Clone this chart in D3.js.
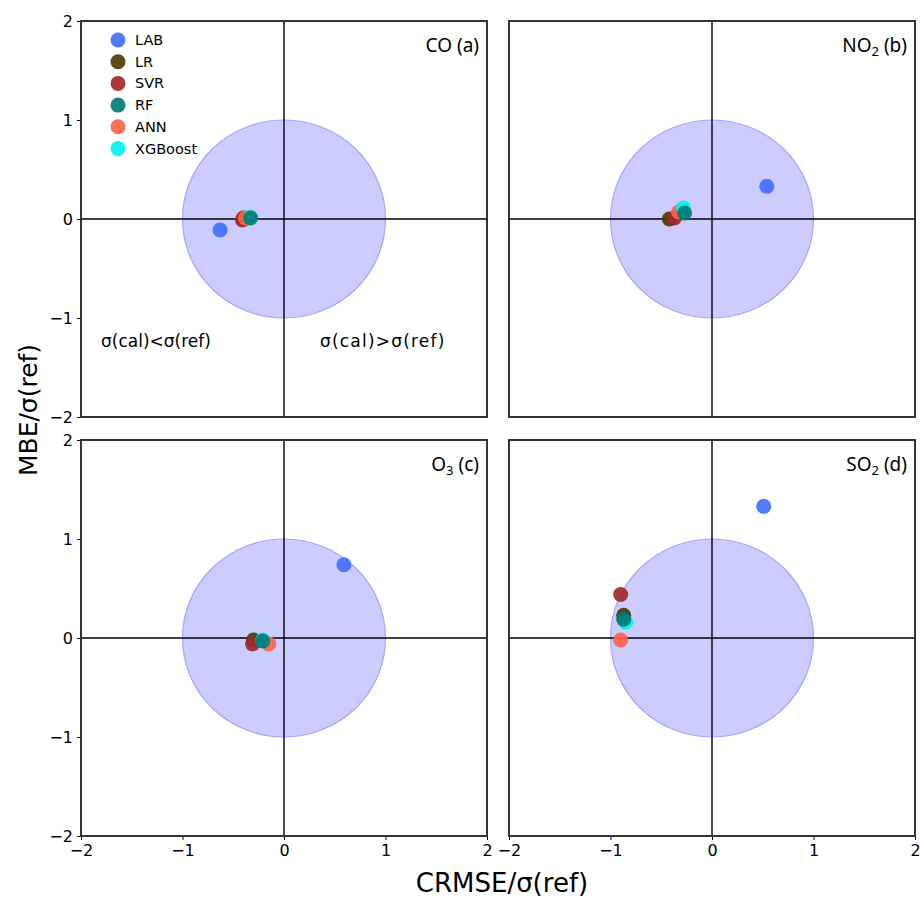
<!DOCTYPE html>
<html lang="en">
<head>
  <meta charset="UTF-8">
  <title>MBE vs CRMSE target diagrams</title>
  <script src="https://d3js.org/d3.v7.min.js"></script>
  <style>
    body { margin: 0; background: #fff; font-family: "DejaVu Sans", sans-serif; }
    .tick text { font-family: "DejaVu Sans", sans-serif; font-size: 16px; fill: #000; }
  </style>
</head>
<body>
  <div id="viz"></div>
  <script>
    // Models, in legend order
    const models = ['LAB', 'LR', 'SVR', 'RF', 'ANN', 'XGBoost'];
    const colors = ['#4370fb', '#4d3b00', '#a3272b', '#007b75', '#ff6347', '#00f2f0'];
    // draw order (RF sits on top of the others)
    const drawOrder = ['LAB', 'LR', 'SVR', 'ANN', 'XGBoost', 'RF'];

    // Panels: name, subscript, tag
    const panels = [
      {name: 'CO', sub: '', tag: '(a)'},
      {name: 'NO', sub: '2', tag: '(b)'},
      {name: 'O', sub: '3', tag: '(c)'},
      {name: 'SO', sub: '2', tag: '(d)'}
    ];

    // CRMSE/σ(ref) per panel, model order as in `models`
    const crmse = [
      [-0.63, -0.40, -0.41, -0.33, -0.38, -0.33],
      [ 0.54, -0.42, -0.37, -0.27, -0.33, -0.28],
      [ 0.59, -0.30, -0.31, -0.21, -0.15, -0.21],
      [ 0.51, -0.87, -0.90, -0.87, -0.90, -0.85]
    ];
    // MBE/σ(ref)
    const mbe = [
      [-0.11,  0.01, -0.01,  0.01,  0.01,  0.02],
      [ 0.33,  0.00,  0.01,  0.06,  0.07,  0.11],
      [ 0.74, -0.02, -0.06, -0.03, -0.06, -0.02],
      [ 1.33,  0.23,  0.44,  0.19, -0.02,  0.16]
    ];

    const ticks = [-2, -1, 0, 1, 2];

    const W = 920, H = 902;
    const cols = [81, 509], rows = [21, 440], pw = 406, ph = 396;

    const svg = d3.select('#viz').append('svg')
      .attr('width', W).attr('height', H);

    const x = d3.scaleLinear().domain([-2, 2]).range([0, pw]);
    const y = d3.scaleLinear().domain([-2, 2]).range([ph, 0]);
    const color = d3.scaleOrdinal().domain(models).range(colors);

    panels.forEach((p, i) => {
      const c = i % 2, r = Math.floor(i / 2);
      const g = svg.append('g')
        .attr('transform', `translate(${cols[c]},${rows[r]})`);

      // unit circle
      g.append('ellipse')
        .attr('cx', x(0)).attr('cy', y(0))
        .attr('rx', x(1) - x(0)).attr('ry', y(0) - y(1))
        .attr('fill', 'rgb(204,204,255)')
        .attr('stroke', 'rgb(165,165,250)').attr('stroke-width', 1.2);

      // zero lines
      g.append('line').attr('x1', x(0)).attr('x2', x(0)).attr('y1', 0).attr('y2', ph)
        .attr('stroke', '#000').attr('stroke-width', 1.4);
      g.append('line').attr('x1', 0).attr('x2', pw).attr('y1', y(0)).attr('y2', y(0))
        .attr('stroke', '#000').attr('stroke-width', 1.4);

      // points
      const pts = drawOrder.map(m => {
        const k = models.indexOf(m);
        return {m, cx: crmse[i][k], my: mbe[i][k]};
      });
      g.selectAll('circle.pt').data(pts).enter().append('circle')
        .attr('class', 'pt')
        .attr('cx', d => x(d.cx)).attr('cy', d => y(d.my))
        .attr('r', 7.5)
        .attr('fill', d => color(d.m))
        .attr('fill-opacity', 0.92);

      // axes
      if (c === 0) {
        g.append('g').call(d3.axisLeft(y).tickValues(ticks).tickSize(4).tickPadding(4)
          .tickFormat(d => d < 0 ? '\u2212' + Math.abs(d) : d))
          .call(a => a.select('.domain').remove());
      }
      if (r === 1) {
        g.append('g').attr('transform', `translate(0,${ph})`)
          .call(d3.axisBottom(x).tickValues(ticks).tickSize(4).tickPadding(5)
            .tickFormat(d => d < 0 ? '\u2212' + Math.abs(d) : d))
          .call(a => a.select('.domain').remove());
      }

      // frame
      g.append('rect').attr('width', pw).attr('height', ph)
        .attr('fill', 'none').attr('stroke', '#333').attr('stroke-width', 2);

      // panel title
      const t = g.append('text')
        .attr('x', pw - 8).attr('y', 31)
        .attr('text-anchor', 'end')
        .attr('font-family', '"Noto Sans", "Open Sans", sans-serif')
        .attr('font-size', 19).attr('fill', '#000');
      t.append('tspan').text(p.name);
      if (p.sub) t.append('tspan').attr('font-size', 13).attr('dy', 4).text(p.sub);
      t.append('tspan').attr('dy', p.sub ? -4 : 0).text(' ' + p.tag);

      // legend + annotations in panel (a)
      if (i === 0) {
        const lg = g.append('g').attr('transform', 'translate(37,19)');
        models.forEach((m, k) => {
          const row = lg.append('g').attr('transform', `translate(0,${k * 21.7})`);
          row.append('circle').attr('r', 7.5).attr('fill', color(m)).attr('fill-opacity', 0.92);
          row.append('text').attr('x', 17).attr('y', 5)
            .attr('font-size', 14.5).attr('fill', '#000').text(m);
        });
        g.append('text').attr('x', 20).attr('y', 326)
          .attr('font-size', 17).attr('fill', '#000').text('σ(cal)<σ(ref)');
        g.append('text').attr('x', 239).attr('y', 326)
          .attr('font-size', 17).attr('letter-spacing', 1.2).attr('fill', '#000').text('σ(cal)>σ(ref)');
      }
    });

    // shared axis labels
    svg.append('text')
      .attr('x', 502).attr('y', 892)
      .attr('text-anchor', 'middle')
      .attr('font-size', 26).attr('fill', '#000')
      .text('CRMSE/σ(ref)');
    svg.append('text')
      .attr('transform', 'translate(37,410) rotate(-90)')
      .attr('text-anchor', 'middle')
      .attr('font-size', 25).attr('fill', '#000')
      .text('MBE/σ(ref)');
  </script>
</body>
</html>
